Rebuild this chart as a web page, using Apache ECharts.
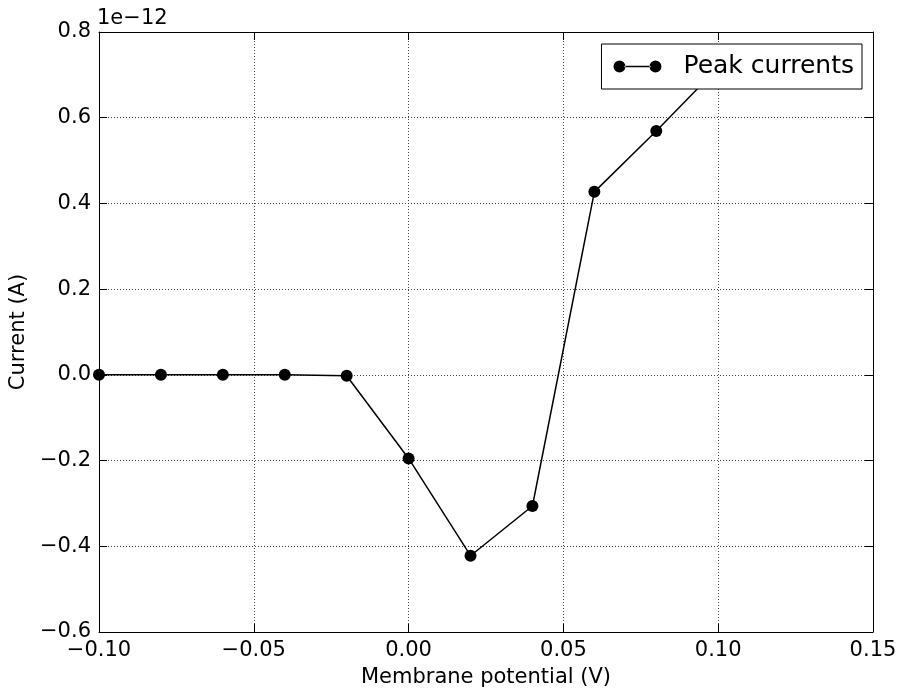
<!DOCTYPE html>
<html><head><meta charset="utf-8">
<script src="https://cdn.jsdelivr.net/npm/echarts@6/dist/echarts.min.js"></script>
<style>html,body{margin:0;padding:0;background:#fff}#c{width:898px;height:692px}</style>
</head><body><div id="c"></div>
<script>
// Membrane potential (V)
const potentials = [-0.10, -0.08, -0.06, -0.04, -0.02, 0.00, 0.02, 0.04, 0.06, 0.08, 0.10];
// Peak currents, in units of 1e-12 A
const peakCurrents = [0.000, 0.000, 0.000, 0.000, -0.002, -0.195, -0.422, -0.306, 0.427, 0.569, 0.717];
const xRange = [-0.10, 0.15];
const xStep = 0.05;
const yRange = [-0.6, 0.8];
const yStep = 0.2;
const seriesName = 'Peak currents';
const xName = 'Membrane potential (V)';
const yName = 'Current (A)';
const offsetText = '1e\u221212';

const FONT = 'DejaVu Sans';
const FS = 21;
function fmt(v, d) {
  if (Math.abs(v) < 1e-9) return (0).toFixed(d);
  return (v < 0 ? '\u2212' : '') + Math.abs(v).toFixed(d);
}
const chart = echarts.init(document.getElementById('c'), null, {renderer: 'canvas'});
const axisLine = {show: true, onZero: false, lineStyle: {color: '#000', width: 1}};
const tick = {show: true, inside: true, length: 8, lineStyle: {color: '#000', width: 1}};
const grid = {show: true, lineStyle: {color: '#444', width: 1, type: [1, 2]}};
chart.setOption({
  animation: false,
  backgroundColor: '#fff',
  grid: {left: 99, right: 25, top: 32, bottom: 60, containLabel: false, outerBoundsMode: 'none'},
  graphic: [{
    type: 'text', left: 97, top: 8, z: 10,
    style: {text: offsetText, font: FS + 'px "' + FONT + '"', fill: '#000'}
  }],
  legend: {
    show: true, right: 36, top: 44,
    data: [{name: seriesName}],
    padding: [10, 8, 10, 12],
    itemWidth: 48, itemHeight: 12,
    icon: 'path://M0,6 a6,6 0 1,0 12,0 a6,6 0 1,0 -12,0 Z M36,6 a6,6 0 1,0 12,0 a6,6 0 1,0 -12,0 Z M11,5.3 L37,5.3 L37,6.7 L11,6.7 Z',
    itemStyle: {color: '#000', borderWidth: 0},
    backgroundColor: '#fff', borderColor: '#000', borderWidth: 1, borderRadius: 0,
    textStyle: {fontFamily: FONT, fontSize: 25, color: '#000', padding: [0, 0, 0, 17]}
  },
  xAxis: [{
    type: 'value', min: xRange[0], max: xRange[1], interval: xStep, position: 'bottom',
    name: xName, nameLocation: 'middle', nameGap: 35,
    nameTextStyle: {fontFamily: FONT, fontSize: FS, color: '#000'},
    axisLine: axisLine, axisTick: tick, splitLine: grid,
    axisLabel: {fontFamily: FONT, fontSize: FS, color: '#000', margin: 8, formatter: v => fmt(v, 2)}
  }, {
    type: 'value', min: xRange[0], max: xRange[1], interval: xStep, position: 'top',
    axisLine: axisLine, axisTick: tick, splitLine: {show: false}, axisLabel: {show: false}
  }],
  yAxis: [{
    type: 'value', min: yRange[0], max: yRange[1], interval: yStep, position: 'left',
    name: yName, nameLocation: 'middle', nameGap: 58, nameRotate: 90,
    nameTextStyle: {fontFamily: FONT, fontSize: FS, color: '#000'},
    axisLine: axisLine, axisTick: tick, splitLine: grid,
    axisLabel: {fontFamily: FONT, fontSize: FS, color: '#000', margin: 8, formatter: v => fmt(v, 1)}
  }, {
    type: 'value', min: yRange[0], max: yRange[1], interval: yStep, position: 'right',
    axisLine: axisLine, axisTick: tick, splitLine: {show: false}, axisLabel: {show: false}
  }],
  series: [{
    name: seriesName, type: 'line',
    data: potentials.map((x, i) => [x, peakCurrents[i]]),
    xAxisIndex: 0, yAxisIndex: 0,
    symbol: 'circle', symbolSize: 12, showSymbol: true,
    itemStyle: {color: '#000', borderWidth: 0},
    lineStyle: {color: '#000', width: 1.5},
    clip: true, z: 3
  }]
});
</script></body></html>
